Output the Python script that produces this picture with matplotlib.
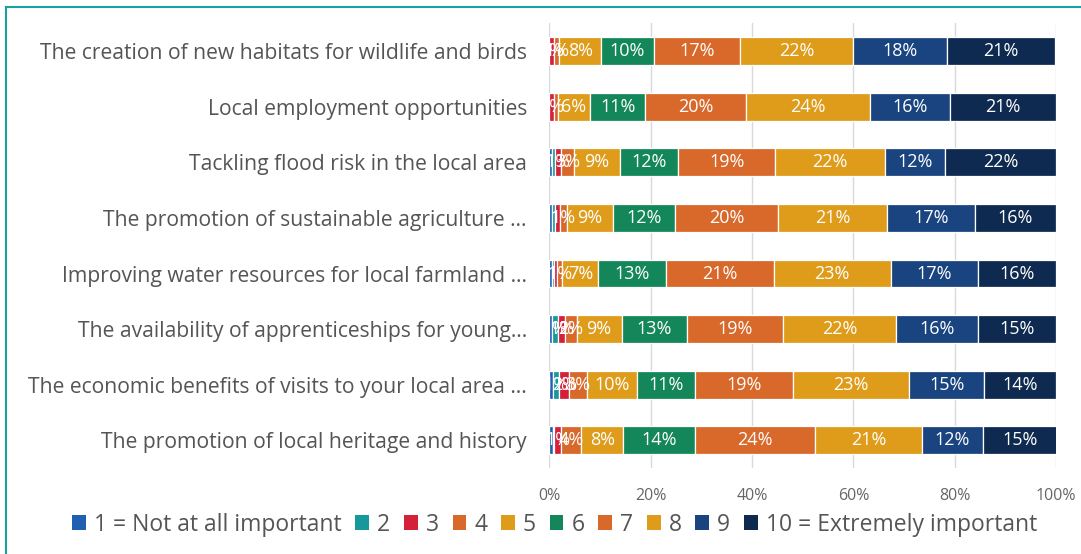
import matplotlib
matplotlib.use("Agg")
import matplotlib.pyplot as plt
from matplotlib.patches import Patch
from matplotlib.lines import Line2D
import numpy as np

categories = [
    "The creation of new habitats for wildlife and birds",
    "Local employment opportunities",
    "Tackling flood risk in the local area",
    "The promotion of sustainable agriculture …",
    "Improving water resources for local farmland …",
    "The availability of apprenticeships for young…",
    "The economic benefits of visits to your local area …",
    "The promotion of local heritage and history",
]

series_names = ["1 = Not at all important", "2", "3", "4", "5", "6", "7", "8", "9",
                "10 = Extremely important"]

s1 = [0.0, 0.0, 0.6, 0.6, 0.5, 0.6, 0.8, 0.7]
s2 = [0.0, 0.0, 0.6, 0.6, 0.5, 1.2, 1.2, 0.3]
s3 = [1.0, 1.0, 1.2, 0.9, 0.6, 1.4, 2.0, 1.3]
s4 = [1.0, 0.7, 2.5, 1.4, 1.0, 2.2, 3.4, 4.0]
s5 = [8.3, 6.4, 9.1, 9.1, 7.1, 8.9, 10.0, 8.3]
s6 = [10.3, 10.9, 11.5, 12.3, 13.4, 12.8, 11.4, 14.2]
s7 = [17.0, 19.9, 19.0, 20.3, 21.2, 19.0, 19.3, 23.6]
s8 = [22.4, 24.3, 21.7, 21.4, 23.1, 22.4, 22.9, 21.2]
s9 = [18.4, 15.8, 11.9, 17.3, 17.1, 16.1, 14.8, 11.9]
s10 = [21.3, 21.0, 21.9, 16.1, 15.5, 15.4, 14.2, 14.6]
series = [s1, s2, s3, s4, s5, s6, s7, s8, s9, s10]

colors = ["#2160B0", "#17989A", "#D42039", "#D8692A", "#DE9C1A",
          "#138759", "#D8692A", "#DE9C1A", "#1A4480", "#0E2A50"]

fig = plt.figure(figsize=(10.81, 5.54), dpi=100)
ax = fig.add_axes([0.508, 0.155, 0.469, 0.803])

y = np.arange(len(categories))
left = np.zeros(len(categories))
for vals, col in zip(series, colors):
    vals = np.array(vals)
    ax.barh(y, vals, left=left, height=0.5, color=col, edgecolor="white",
            linewidth=0.9, zorder=3)
    for yi, (l, v) in enumerate(zip(left, vals)):
        if v >= 0.95:
            ax.text(l + v / 2, yi, f"{int(v + 0.5)}%", ha="center", va="center",
                    color="white", fontsize=13, family="Open Sans", zorder=4)
    left += vals

ax.set_xlim(0, 100)
ax.set_ylim(len(categories) - 0.5, -0.5)
ax.set_yticks(y)
ax.set_yticklabels(categories, fontsize=15.2, color="#555555", family="Open Sans")
ax.set_xticks(np.arange(0, 101, 20))
ax.set_xticklabels([f"{v}%" for v in range(0, 101, 20)], fontsize=11.5,
                   color="#666666", family="Open Sans")
ax.tick_params(axis="both", length=0)
ax.tick_params(axis="y", pad=16)
ax.tick_params(axis="x", pad=14)
ax.grid(axis="x", color="#D9D9D9", linewidth=1, zorder=0)
for sp in ax.spines.values():
    sp.set_visible(False)

handles = [Patch(facecolor=c, edgecolor="none") for c in colors]
leg = fig.legend(handles, series_names, loc="center", bbox_to_anchor=(0.513, 0.053),
                 ncol=10, frameon=False, handlelength=0.6,
                 handleheight=0.6, handletextpad=0.35, columnspacing=0.6,
                 prop={"family": "Open Sans", "size": 16.5})
for t in leg.get_texts():
    t.set_color("#555555")

fig.add_artist(Line2D([6 / 1081, 6 / 1081], [0, 1 - 7 / 554], transform=fig.transFigure,
                      color="#1AA0A0", linewidth=1.5))
fig.add_artist(Line2D([6 / 1081, 1], [1 - 7 / 554, 1 - 7 / 554], transform=fig.transFigure,
                      color="#1AA0A0", linewidth=1.5))

fig.savefig("out.png", dpi=100)
